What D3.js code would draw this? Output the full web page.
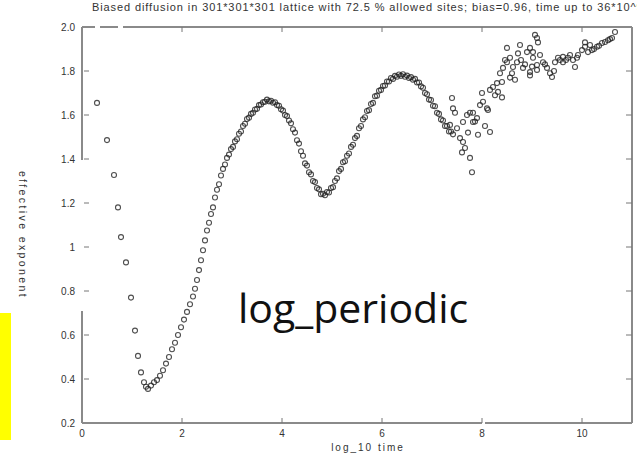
<!DOCTYPE html>
<html>
<head>
<meta charset="utf-8">
<script src="https://cdn.jsdelivr.net/npm/d3@7"></script>
<style>
  body { margin: 0; background: #fff; }
  svg { display: block; }
</style>
</head>
<body>
<svg id="chart" width="637" height="455"></svg>
<script>
// tick values
var xTicks = [0, 2, 4, 6, 8, 10];
var yTicks = [0.2, 0.4, 0.6, 0.8, 1, 1.2, 1.4, 1.6, 1.8, 2];

// early sparse points (short times)
var earlyX = [0.3, 0.5, 0.64, 0.72, 0.78, 0.88, 0.98, 1.06, 1.12, 1.18, 1.24, 1.28, 1.32, 1.38, 1.44, 1.5, 1.56, 1.62, 1.68, 1.74, 1.8, 1.86, 1.92, 1.98, 2.04, 2.1, 2.16, 2.22, 2.26, 2.3, 2.34, 2.38, 2.42, 2.46, 2.5, 2.54, 2.58];
var earlyY = [1.655, 1.486, 1.327, 1.18, 1.045, 0.93, 0.77, 0.62, 0.505, 0.43, 0.385, 0.365, 0.355, 0.37, 0.385, 0.395, 0.415, 0.44, 0.47, 0.5, 0.535, 0.565, 0.6, 0.635, 0.67, 0.705, 0.74, 0.775, 0.81, 0.85, 0.895, 0.94, 0.985, 1.03, 1.075, 1.11, 1.15];

// dense oscillating part
var curveX = [2.62, 2.66, 2.7, 2.74, 2.78, 2.82, 2.86, 2.9, 2.94, 2.98, 3.02, 3.06, 3.1, 3.14, 3.18, 3.22, 3.26, 3.3, 3.34, 3.38, 3.42, 3.46, 3.5, 3.54, 3.58, 3.62, 3.66, 3.7, 3.74, 3.78, 3.82, 3.86, 3.9, 3.94, 3.98, 4.02, 4.06, 4.1, 4.14, 4.18, 4.22, 4.26, 4.3, 4.34, 4.38, 4.42, 4.46, 4.5, 4.54, 4.58, 4.62, 4.66, 4.7, 4.74, 4.78, 4.82, 4.86, 4.9, 4.94, 4.98, 5.02, 5.06, 5.1, 5.14, 5.18, 5.22, 5.26, 5.3, 5.34, 5.38, 5.42, 5.46, 5.5, 5.54, 5.58, 5.62, 5.66, 5.7, 5.74, 5.78, 5.82, 5.86, 5.9, 5.94, 5.98, 6.02, 6.06, 6.1, 6.14, 6.18, 6.22, 6.26, 6.3, 6.34, 6.38, 6.42, 6.46, 6.5, 6.54, 6.58, 6.62, 6.66, 6.7, 6.74, 6.78, 6.82, 6.86, 6.9, 6.94, 6.98, 7.02, 7.06, 7.1, 7.14, 7.18, 7.22, 7.26, 7.3, 7.34, 7.38, 7.42];
var curveY = [1.18, 1.225, 1.26, 1.285, 1.325, 1.355, 1.375, 1.405, 1.42, 1.445, 1.455, 1.48, 1.49, 1.515, 1.525, 1.55, 1.56, 1.582, 1.588, 1.605, 1.61, 1.625, 1.628, 1.645, 1.648, 1.658, 1.66, 1.67, 1.662, 1.665, 1.656, 1.658, 1.645, 1.642, 1.626, 1.62, 1.6, 1.595, 1.575, 1.562, 1.535, 1.52, 1.485, 1.47, 1.435, 1.415, 1.38, 1.37, 1.34, 1.33, 1.3, 1.295, 1.268, 1.262, 1.24, 1.242, 1.235, 1.25, 1.248, 1.268, 1.272, 1.3, 1.312, 1.345, 1.355, 1.385, 1.39, 1.415, 1.425, 1.455, 1.465, 1.495, 1.505, 1.54, 1.55, 1.58, 1.59, 1.618, 1.622, 1.65, 1.655, 1.685, 1.688, 1.71, 1.714, 1.732, 1.734, 1.752, 1.752, 1.768, 1.764, 1.778, 1.774, 1.784, 1.778, 1.785, 1.774, 1.779, 1.768, 1.772, 1.76, 1.764, 1.748, 1.748, 1.73, 1.724, 1.7, 1.694, 1.67, 1.668, 1.642, 1.64, 1.61, 1.605, 1.58, 1.575, 1.55, 1.55, 1.525, 1.525, 1.512];

// noisy late-time part
var lateX = [7.4, 7.42, 7.46, 7.36, 7.5, 7.56, 7.62, 7.66, 7.6, 7.76, 7.8, 7.62, 7.7, 7.76, 7.82, 7.9, 7.82, 7.92, 8.16, 7.96, 8.02, 8.1, 8.0, 8.12, 8.16, 8.22, 8.3, 8.32, 8.4, 8.26, 8.36, 8.42, 8.5, 8.56, 8.46, 8.6, 8.56, 8.62, 8.7, 8.72, 8.76, 8.9, 8.96, 8.82, 8.96, 9.02, 9.1, 9.1, 8.5, 8.96, 8.66, 8.78, 8.86, 8.4, 8.06, 7.86, 7.72,
  9.06, 9.12, 9.02, 9.16, 9.0, 9.1, 9.3, 9.36, 9.4, 9.46, 9.52, 9.62, 9.72, 9.82, 9.86, 9.92, 10.0, 10.06, 10.12, 10.2, 10.3, 10.4, 10.46, 10.52, 10.6, 10.66, 10.06, 10.16, 9.62, 9.76, 9.22, 9.56, 9.68, 9.9, 10.24, 10.34, 10.56, 9.26, 9.44];
var lateY = [1.677, 1.63, 1.61, 1.555, 1.54, 1.495, 1.477, 1.45, 1.43, 1.405, 1.34, 1.568, 1.6, 1.61, 1.61, 1.586, 1.568, 1.51, 1.523, 1.645, 1.66, 1.63, 1.7, 1.623, 1.714, 1.727, 1.745, 1.705, 1.68, 1.69, 1.79, 1.814, 1.84, 1.86, 1.85, 1.79, 1.77, 1.818, 1.84, 1.88, 1.918, 1.886, 1.905, 1.814, 1.78, 1.86, 1.827, 1.95, 1.905, 1.795, 1.76, 1.85, 1.83, 1.75, 1.55, 1.57, 1.52,
  1.964, 1.93, 1.886, 1.873, 1.82, 1.805, 1.814, 1.79, 1.773, 1.84, 1.86, 1.864, 1.86, 1.85, 1.818, 1.873, 1.895, 1.91, 1.886, 1.895, 1.91, 1.927, 1.932, 1.94, 1.95, 1.977, 1.93, 1.918, 1.84, 1.873, 1.84, 1.85, 1.85, 1.86, 1.9, 1.915, 1.945, 1.83, 1.8];

var title = "Biased diffusion in 301*301*301 lattice with 72.5 % allowed sites; bias=0.96, time up to 36*10^9";

var svg = d3.select("#chart");
var padL = 82, padR = 632, padT = 27, padB = 423;

var x = d3.scaleLinear().domain([0, 11]).range([padL, padR]);
var y = d3.scaleLinear().domain([0.2, 2]).range([padB, padT]);

// yellow strip on the left
svg.append("rect").attr("x", 0).attr("y", 313).attr("width", 11).attr("height", 127).attr("fill", "#ffff00");

// frame, drawn in pieces (the reference has gaps in it)
var frame = svg.append("g").attr("stroke", "#8a8a8a").attr("stroke-width", 2).attr("fill", "none");
[[padL, padT, 95, padT], [100, padT, 118, padT], [123, padT, padR, padT],
 [padR, padT, padR, padB],
 [padL, padB, 482, padB], [485, padB, padR, padB],
 [padL, padT, padL, 160], [padL, 311, padL, padB]].forEach(function(s) {
  frame.append("line").attr("x1", s[0]).attr("y1", s[1]).attr("x2", s[2]).attr("y2", s[3]);
});

// inward ticks on all four sides
var ax = svg.append("g").attr("stroke", "#777").attr("stroke-width", 1);
xTicks.filter(function(d) { return d > 0; }).forEach(function(d) {
  ax.append("line").attr("x1", x(d)).attr("x2", x(d)).attr("y1", padB).attr("y2", padB - 5);
  ax.append("line").attr("x1", x(d)).attr("x2", x(d)).attr("y1", padT).attr("y2", padT + 5);
});
yTicks.filter(function(d) { return d > 0.2 && d < 2; }).forEach(function(d) {
  ax.append("line").attr("x1", padL + 2).attr("x2", padL + 7).attr("y1", y(d)).attr("y2", y(d));
  ax.append("line").attr("x1", padR - 6).attr("x2", padR).attr("y1", y(d)).attr("y2", y(d));
});

// tick labels
var lab = svg.append("g").attr("font-family", "Liberation Sans, Arial, sans-serif").attr("font-size", 10).attr("fill", "#333");
xTicks.forEach(function(d) {
  lab.append("text").attr("x", x(d)).attr("y", 437).attr("text-anchor", "middle").text(d);
});
yTicks.forEach(function(d) {
  lab.append("text").attr("x", 75).attr("y", y(d) + 3.5).attr("text-anchor", "end").text(d === 1 ? "1" : d3.format(".1f")(d));
});

// axis titles
lab.append("text").attr("x", 368).attr("y", 451).attr("text-anchor", "middle")
  .attr("font-size", 10).attr("letter-spacing", 2).text("log_10 time");
lab.append("text").attr("transform", "translate(19,235) rotate(90)").attr("text-anchor", "middle")
  .attr("font-size", 10.5).attr("letter-spacing", 2.4).text("effective exponent");

// title, runs off the right edge like the reference
svg.append("text").attr("x", 92).attr("y", 11).attr("font-family", "Liberation Sans, Arial, sans-serif")
  .attr("font-size", 11).attr("letter-spacing", 0.9).attr("fill", "#333").text(title);

// points
var pts = [];
earlyX.forEach(function(v, i) { pts.push([v, earlyY[i]]); });
curveX.forEach(function(v, i) { pts.push([v, curveY[i]]); });
lateX.forEach(function(v, i) { pts.push([v, lateY[i]]); });

svg.append("g").selectAll("circle")
  .data(pts)
  .enter().append("circle")
  .attr("cx", function(d) { return x(d[0]); })
  .attr("cy", function(d) { return y(d[1]); })
  .attr("r", 2.5)
  .attr("fill", "none")
  .attr("stroke", "#222")
  .attr("stroke-opacity", 0.8)
  .attr("stroke-width", 1.1);

// overlay label
svg.append("text").attr("x", 238).attr("y", 323)
  .attr("font-family", "Open Sans, sans-serif").attr("font-size", 41).attr("fill", "#111")
  .text("log_periodic");
</script>
</body>
</html>
